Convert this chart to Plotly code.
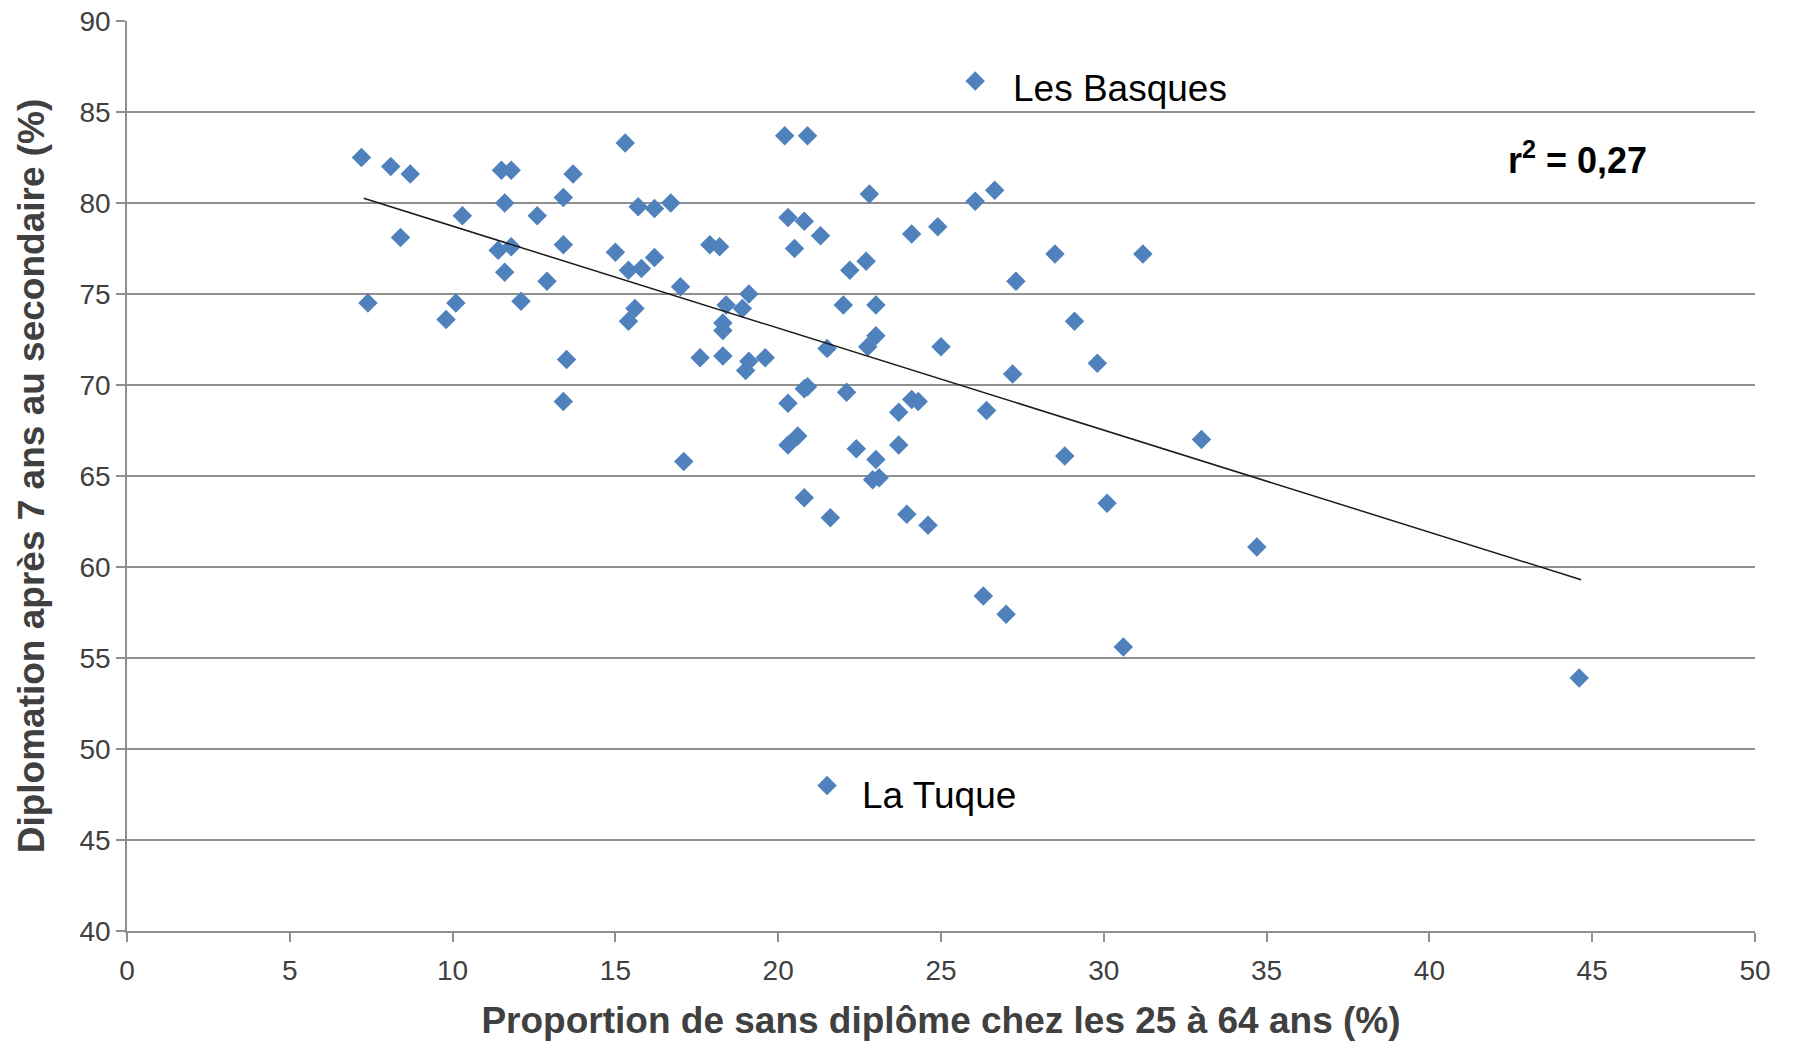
import plotly.graph_objects as go

# Proportion de sans diplôme chez les 25 à 64 ans (%)
x_vals = [7.2, 7.4, 8.1, 8.7, 8.4, 9.8, 10.1, 10.3, 11.5, 11.8, 11.6, 11.4, 11.8, 11.6, 12.1,
          12.6, 12.9, 13.4, 13.7, 13.4, 13.5, 13.4, 15.3, 15.0, 15.4, 15.4, 15.6, 15.7, 15.8,
          16.2, 16.2, 16.7, 17.0, 17.1, 17.6, 17.9, 18.2, 18.4, 18.3, 18.3, 18.3, 18.9, 19.1,
          19.1, 19.0, 19.6, 20.2, 20.9, 20.3, 20.8, 20.5, 21.3, 20.3, 20.8, 20.9, 20.3, 20.6,
          20.8, 21.6, 21.5, 22.0, 22.2, 22.7, 22.8, 22.1, 22.4, 22.75, 23.0, 23.0, 23.0, 22.9,
          23.1, 23.7, 23.7, 24.1, 24.3, 23.95, 24.6, 24.1, 24.9, 25.0, 26.05, 26.05, 26.65, 26.4,
          26.3, 27.0, 27.2, 27.3, 28.5, 28.8, 29.1, 29.8, 30.1, 30.6, 31.2, 33.0, 34.7, 44.6,
          21.5]
# Diplomation après 7 ans au secondaire (%)
y_vals = [82.5, 74.5, 82.0, 81.6, 78.1, 73.6, 74.5, 79.3, 81.8, 81.8, 80.0, 77.4, 77.6, 76.2, 74.6,
          79.3, 75.7, 80.3, 81.6, 77.7, 71.4, 69.1, 83.3, 77.3, 76.3, 73.5, 74.2, 79.8, 76.4,
          79.7, 77.0, 80.0, 75.4, 65.8, 71.5, 77.7, 77.6, 74.4, 73.4, 73.0, 71.6, 74.2, 75.0,
          71.3, 70.8, 71.5, 83.7, 83.7, 79.2, 79.0, 77.5, 78.2, 69.0, 69.8, 69.9, 66.7, 67.2,
          63.8, 62.7, 72.0, 74.4, 76.3, 76.8, 80.5, 69.6, 66.5, 72.1, 72.7, 74.4, 65.9, 64.8,
          64.9, 68.5, 66.7, 69.2, 69.1, 62.9, 62.3, 78.3, 78.7, 72.1, 86.7, 80.1, 80.7, 68.6,
          58.4, 57.4, 70.6, 75.7, 77.2, 66.1, 73.5, 71.2, 63.5, 55.6, 77.2, 67.0, 61.1, 53.9,
          48.0]

# Droite de tendance
trend_x = [7.27, 44.66]
trend_y = [80.26, 59.3]

x_ticks = [0, 5, 10, 15, 20, 25, 30, 35, 40, 45, 50]
y_ticks = [40, 45, 50, 55, 60, 65, 70, 75, 80, 85, 90]

labels_text = ["Les Basques", "La Tuque"]
labels_x = [27.15, 22.5]
labels_y = [86.3, 47.45]

r2_text = "r<sup>2</sup> = 0,27"
r2_x = 42.35
r2_y = 82.45

FONT = "Arial, Liberation Sans, sans-serif"
TICK_COLOR = "#404040"
GRID = "#8f8f8f"

fig = go.Figure()
fig.add_trace(go.Scatter(
    x=x_vals, y=y_vals, mode="markers",
    marker=dict(symbol="diamond", size=15, color="#4F81BD", line=dict(width=0)),
    showlegend=False, hoverinfo="x+y",
))
fig.add_trace(go.Scatter(
    x=trend_x, y=trend_y, mode="lines",
    line=dict(color="#1a1a1a", width=1.5), showlegend=False, hoverinfo="skip",
))

for t, ax_, ay_ in zip(labels_text, labels_x, labels_y):
    fig.add_annotation(x=ax_, y=ay_, text=t, showarrow=False, xanchor="left", yanchor="middle",
                       font=dict(family=FONT, size=37, color="#000000"))
fig.add_annotation(x=r2_x, y=r2_y, text="<b>" + r2_text + "</b>", showarrow=False,
                   xanchor="left", yanchor="middle",
                   font=dict(family=FONT, size=36, color="#000000"))

fig.update_layout(
    width=1793, height=1043,
    margin=dict(l=127, r=38, t=21, b=112, autoexpand=False),
    paper_bgcolor="white", plot_bgcolor="white",
    font=dict(family=FONT, color=TICK_COLOR),
)
fig.update_xaxes(
    range=[0, 50], tickvals=x_ticks, ticktext=[str(v) for v in x_ticks],
    showgrid=False, zeroline=False, showline=True, linecolor=GRID, linewidth=1.5,
    ticks="outside", ticklen=9, tickcolor=GRID, tickwidth=1.5,
    tickfont=dict(family=FONT, size=28, color=TICK_COLOR), ticklabelstandoff=5,
    title=dict(text="<b>Proportion de sans diplôme chez les 25 à 64 ans (%)</b>",
               font=dict(family=FONT, size=37, color=TICK_COLOR), standoff=22),
    automargin=False,
)
fig.update_yaxes(
    range=[40, 90], tickvals=y_ticks, ticktext=[str(v) for v in y_ticks],
    showgrid=True, gridcolor=GRID, gridwidth=1.5, zeroline=False,
    showline=True, linecolor=GRID, linewidth=1.5,
    ticks="outside", ticklen=9, tickcolor=GRID, tickwidth=1.5,
    tickfont=dict(family=FONT, size=28, color=TICK_COLOR), ticklabelstandoff=0,
    title=dict(text="<b>Diplomation après 7 ans au secondaire (%)</b>",
               font=dict(family=FONT, size=37, color=TICK_COLOR), standoff=24),
    automargin=False,
)

# Remove the default page margin so the figure fills the window exactly.
fig.write_html("out.html",
               config={"displayModeBar": False},
               post_script="document.body.style.margin='0px';document.body.style.overflow='hidden';")
